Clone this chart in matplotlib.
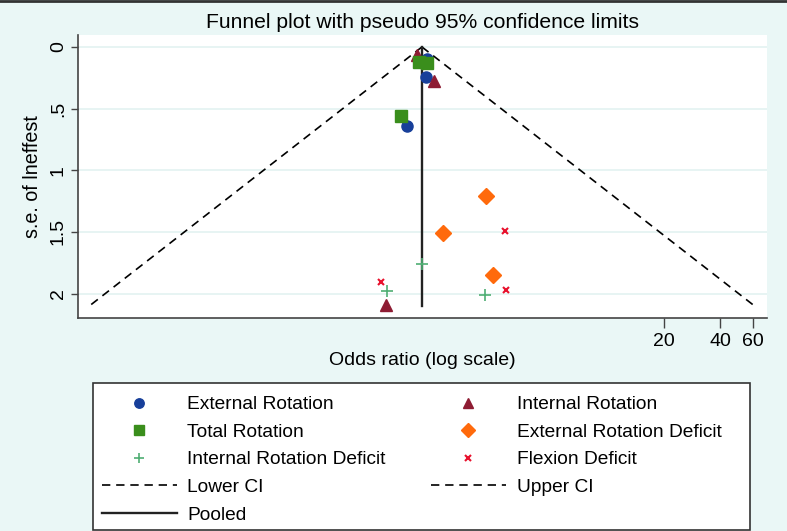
import numpy as np
import matplotlib
matplotlib.use('Agg')
import matplotlib.pyplot as plt
from matplotlib.lines import Line2D
from matplotlib.patches import Rectangle

plt.rcParams['font.family'] = ['Liberation Sans', 'DejaVu Sans']

# DATA (odds ratio, standard error of ln effect)
ext_rot_or = [1.07, 1.05, 0.83]
ext_rot_se = [0.10, 0.24, 0.64]
int_rot_or = [0.94, 1.16, 0.64]
int_rot_se = [0.065, 0.28, 2.09]
tot_rot_or = [0.97, 1.06, 0.77]
tot_rot_se = [0.12, 0.13, 0.56]
erd_or = [2.20, 1.30, 2.40]
erd_se = [1.21, 1.51, 1.85]
ird_or = [1.00, 0.65, 2.19]
ird_se = [1.76, 1.98, 2.01]
flex_or = [2.80, 0.60, 2.82]
flex_se = [1.49, 1.91, 1.97]
pooled = 1.0
se_max = 2.1

# funnel limits
se_line = np.array([0.0, se_max])
lower_ci = np.exp(np.log(pooled) - 1.96 * se_line)
upper_ci = np.exp(np.log(pooled) + 1.96 * se_line)

bg = '#eaf7f6'
W, H = 787, 531

fig = plt.figure(figsize=(W / 100, H / 100), dpi=100, facecolor=bg)
ax = fig.add_axes([78 / W, 1 - 318 / H, (767 - 78) / W, (318 - 35) / H])
ax.set_facecolor('white')

ax.plot(lower_ci, se_line, color='black', ls=(0, (5, 3.5)), lw=1.2, label='Lower CI', zorder=2)
ax.plot(upper_ci, se_line, color='black', ls=(0, (5, 3.5)), lw=1.2, label='Upper CI', zorder=2)
ax.plot([pooled, pooled], se_line, color='#222222', lw=1.7, label='Pooled', zorder=2)

ax.plot(ext_rot_or, ext_rot_se, 'o', color='#173f9a', ms=8, ls='none', label='External Rotation', zorder=3)
ax.plot(int_rot_or, int_rot_se, '^', color='#8e1c33', ms=8.5, ls='none', label='Internal Rotation', zorder=3)
ax.plot(tot_rot_or, tot_rot_se, 's', color='#3a8e1c', ms=8, ls='none', label='Total Rotation', zorder=3)
ax.plot(erd_or, erd_se, 'D', color='#ff6a0c', ms=8.5, ls='none', label='External Rotation Deficit', zorder=3)
ax.plot(ird_or, ird_se, '+', color='#4fae73', ms=8, mew=1.2, ls='none', label='Internal Rotation Deficit', zorder=3)
ax.plot(flex_or, flex_se, 'x', color='#e8112d', ms=5, mew=1.5, ls='none', label='Flexion Deficit', zorder=3)

ax.set_xscale('log')
ax.set_xlim(0.01416, 71.6)
ax.set_ylim(2.198, -0.097)
ax.set_xticks([20, 40, 60])
ax.set_xticklabels(['20', '40', '60'])
ax.xaxis.set_minor_locator(matplotlib.ticker.NullLocator())
ax.set_yticks([0, 0.5, 1, 1.5, 2])
ax.set_yticklabels(['0', '.5', '1', '1.5', '2'], rotation=90, va='center')
ax.tick_params(axis='both', labelsize=14, color='#444444', width=1)
ax.tick_params(axis='x', length=7)
ax.tick_params(axis='y', length=5, pad=3)
ax.grid(axis='y', color='#e3f2f1', lw=1.2, zorder=0)
ax.set_axisbelow(True)
for s in ['top', 'right']:
    ax.spines[s].set_visible(False)
for s in ['left', 'bottom']:
    ax.spines[s].set_color('#444444')
    ax.spines[s].set_linewidth(1.2)

ax.set_xlabel('Odds ratio (log scale)', fontsize=14, labelpad=2)
ax.set_ylabel('s.e. of lneffest', fontsize=14.2, labelpad=6)
ax.set_title('Funnel plot with pseudo 95% confidence limits', fontsize=15.2, pad=5)

# legend box drawn separately so it can be wider than its contents
fig.add_artist(Rectangle((93 / W, 1 - 530 / H), (750 - 93) / W, (530 - 383) / H,
                         transform=fig.transFigure, facecolor='white',
                         edgecolor='#333333', lw=1.2, zorder=1))

h = {l: hd for hd, l in zip(*ax.get_legend_handles_labels())}
order = ['External Rotation', 'Total Rotation', 'Internal Rotation Deficit', 'Lower CI', 'Pooled',
         'Internal Rotation', 'External Rotation Deficit', 'Flexion Deficit', 'Upper CI']
leg = fig.legend([h[k] for k in order], order, ncol=2, loc='upper left',
                 bbox_to_anchor=(88 / W, 1 - 382 / H), borderaxespad=0,
                 fontsize=13.8, handlelength=3.9, handletextpad=0.57,
                 labelspacing=0.53, columnspacing=2.35, frameon=False,
                 borderpad=0.72, markerscale=0.85)
leg.set_zorder(2)
fig.add_artist(Line2D([0, 1], [1 - 1 / H, 1 - 1 / H], color='#333333', lw=2))

plt.savefig('out.png', dpi=100, facecolor=bg)
